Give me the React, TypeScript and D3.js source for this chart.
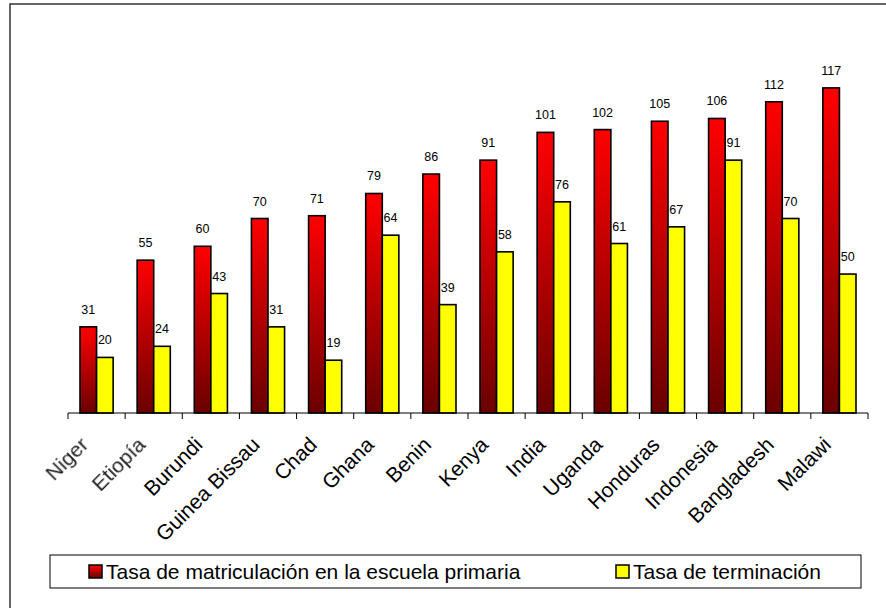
import React, { useEffect, useRef } from 'react';
import * as d3 from 'd3';

const countries = ['Niger', 'Etiopía', 'Burundi', 'Guinea Bissau', 'Chad', 'Ghana', 'Benin', 'Kenya', 'India', 'Uganda', 'Honduras', 'Indonesia', 'Bangladesh', 'Malawi'];
const matriculacion = [31, 55, 60, 70, 71, 79, 86, 91, 101, 102, 105, 106, 112, 117];
const terminacion = [20, 24, 43, 31, 19, 64, 39, 58, 76, 61, 67, 91, 70, 50];
const seriesNames = ['Tasa de matriculación en la escuela primaria', 'Tasa de terminación'];
const blurred = ['Niger', 'Etiopía'];

const App = () => {
    const svgRef = useRef<SVGSVGElement | null>(null);

    useEffect(() => {
        drawChart();
    }, []);

    const drawChart = () => {
        const W = 886;
        const H = 608;
        const svg = d3.select(svgRef.current).attr('width', W).attr('height', H);
        svg.selectAll('*').remove();

        const defs = svg.append('defs');
        const grad = defs
            .append('linearGradient')
            .attr('id', 'redGrad')
            .attr('x1', 0).attr('y1', 0).attr('x2', 0).attr('y2', 1);
        grad.append('stop').attr('offset', '0%').attr('stop-color', '#ff0000');
        grad.append('stop').attr('offset', '100%').attr('stop-color', '#6a0000');
        defs.append('filter').attr('id', 'soft').append('feGaussianBlur').attr('stdDeviation', 0.6);

        svg.append('rect').attr('width', W).attr('height', H).attr('fill', '#fff');
        // outer frame (cropped on right/bottom)
        svg
            .append('rect')
            .attr('x', 10).attr('y', 4)
            .attr('width', 1000).attr('height', 1000)
            .attr('fill', 'none').attr('stroke', '#333').attr('stroke-width', 1.5);

        const x0 = d3.scaleBand().domain(countries).range([68, 868]).paddingInner(0.42).paddingOuter(0.21);
        const x1 = d3.scaleBand().domain(['m', 't']).range([0, x0.bandwidth()]);
        const y = d3.scaleLinear().domain([0, 140]).range([413, 24]);

        const g = svg.append('g');
        const rows = countries.map((c, i) => ({ c, m: matriculacion[i], t: terminacion[i] }));

        const groups = g
            .selectAll('g.grp')
            .data(rows)
            .enter()
            .append('g')
            .attr('transform', d => `translate(${x0(d.c)},0)`);

        groups
            .append('rect')
            .attr('x', x1('m')!)
            .attr('width', x1.bandwidth())
            .attr('y', d => y(d.m))
            .attr('height', d => y(0) - y(d.m))
            .attr('fill', 'url(#redGrad)')
            .attr('stroke', '#000')
            .attr('stroke-width', 1.6);

        groups
            .append('rect')
            .attr('x', x1('t')!)
            .attr('width', x1.bandwidth())
            .attr('y', d => y(d.t))
            .attr('height', d => y(0) - y(d.t))
            .attr('fill', '#ffff00')
            .attr('stroke', '#000')
            .attr('stroke-width', 1.6);

        groups
            .append('text')
            .attr('x', x1('m')! + x1.bandwidth() / 2)
            .attr('y', d => y(d.m) - 13)
            .attr('text-anchor', 'middle')
            .attr('font-size', 12.5)
            .attr('fill', '#000')
            .text(d => d.m);

        groups
            .append('text')
            .attr('x', x1('t')! + x1.bandwidth() / 2)
            .attr('y', d => y(d.t) - 13)
            .attr('text-anchor', 'middle')
            .attr('font-size', 12.5)
            .attr('fill', '#000')
            .text(d => d.t);

        // x axis
        const edges = d3.range(countries.length + 1).map(i => 68 + i * (800 / countries.length));
        g.append('line')
            .attr('x1', 68).attr('x2', 868)
            .attr('y1', y(0)).attr('y2', y(0))
            .attr('stroke', '#000').attr('stroke-width', 1);
        g.selectAll('line.tick')
            .data(edges)
            .enter()
            .append('line')
            .attr('x1', d => d).attr('x2', d => d)
            .attr('y1', y(0)).attr('y2', y(0) + 6)
            .attr('stroke', '#000');

        g.selectAll('text.cat')
            .data(countries)
            .enter()
            .append('text')
            .attr('transform', d => `translate(${x0(d)! + x0.bandwidth() / 2 - 7},${y(0) + 33}) rotate(-45)`)
            .attr('text-anchor', 'end')
            .attr('font-size', 21)
            .attr('fill', d => (blurred.includes(d) ? '#222' : '#000'))
            .attr('filter', d => (blurred.includes(d) ? 'url(#soft)' : null))
            .text(d => d);

        // legend
        const lg = svg.append('g');
        lg.append('rect')
            .attr('x', 50).attr('y', 555)
            .attr('width', 811).attr('height', 33)
            .attr('fill', '#fff').attr('stroke', '#000').attr('stroke-width', 1);
        const items = [
            { name: seriesNames[0], fill: 'url(#redGrad)', x: 89 },
            { name: seriesNames[1], fill: '#ffff00', x: 616 },
        ];
        lg.selectAll('rect.sw')
            .data(items)
            .enter()
            .append('rect')
            .attr('x', d => d.x).attr('y', 565)
            .attr('width', 13).attr('height', 13)
            .attr('fill', d => d.fill)
            .attr('stroke', '#000').attr('stroke-width', 1.5);
        lg.selectAll('text.lt')
            .data(items)
            .enter()
            .append('text')
            .attr('x', d => d.x + 17).attr('y', 579)
            .attr('font-size', 21)
            .attr('fill', '#000')
            .text(d => d.name);
    };

    return (
        <svg
            ref={svgRef}
            style={{ position: 'absolute', left: 0, top: 0, fontFamily: '"Liberation Sans", Arial, sans-serif' }}
        ></svg>
    );
};

export default App;
